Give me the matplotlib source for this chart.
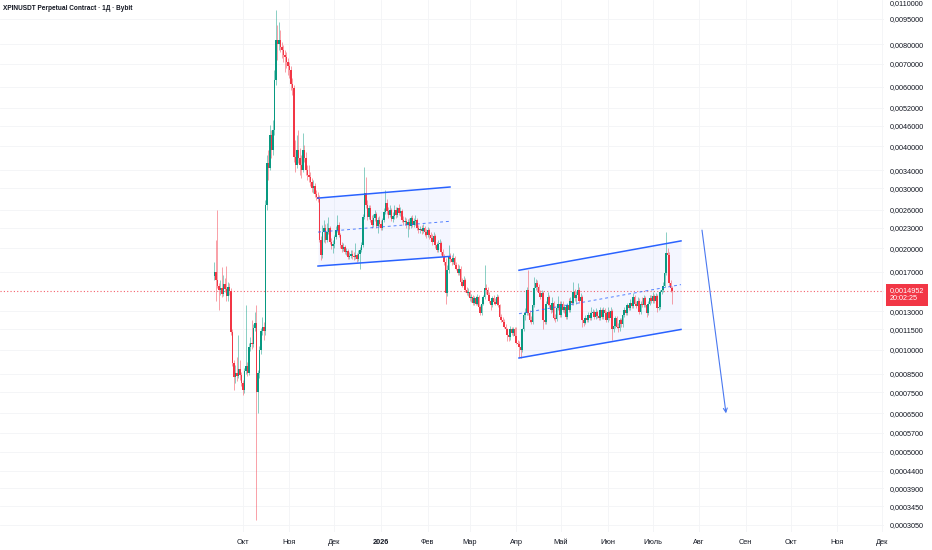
import datetime as dt
import matplotlib
matplotlib.use("Agg")
import matplotlib.pyplot as plt
import matplotlib.dates as mdates
from matplotlib.ticker import NullLocator

plt.rcParams['font.family'] = ['Liberation Sans', 'DejaVu Sans']

# prices below are in units of 0.0001 USDT, one daily candle per entry
PRICE_UNIT = 1e-4
first_day = dt.date(2025, 9, 12)
first_open = 16.5

close = [
    17.0, 16.1, 15.5, 15.0, 15.2, 14.65, 15.7, 15.1, 14.4, 15.3,
    14.95, 11.3, 9.15, 8.33, 8.55, 8.38, 8.79, 8.44, 7.99, 7.62,
    8.67, 8.97, 8.55, 10.2, 10.5, 10.4, 11.65, 12.0, 7.52, 8.55,
    10.0, 11.4, 11.7, 11.35, 26.8, 35.7, 34.5, 43.1, 39.0, 44.6,
    62.7, 82.4, 80.2, 82.4, 78.6, 76.9, 74.4, 73.4, 70.9, 69.0,
    67.2, 61.0, 59.4, 37.2, 35.2, 39.0, 36.9, 35.2, 34.0, 39.0,
    36.9, 34.0, 32.9, 32.5, 31.4, 30.1, 30.5, 28.9, 28.3, 27.9,
    21.1, 19.1, 22.3, 23.0, 21.1, 22.3, 23.0, 20.8, 20.3, 20.6,
    21.6, 22.6, 23.4, 21.9, 20.4, 19.9, 20.1, 19.5, 19.6, 18.8,
    18.9, 19.2, 18.9, 18.8, 19.1, 18.6, 19.2, 19.7, 20.4, 24.7,
    29.1, 26.8, 24.7, 26.2, 24.2, 23.4, 24.6, 25.2, 23.3, 24.2,
    23.6, 23.0, 24.2, 25.6, 27.1, 25.7, 25.1, 25.9, 24.4, 24.9,
    25.9, 25.1, 26.2, 25.4, 25.7, 24.2, 23.9, 24.1, 23.4, 23.9,
    23.3, 24.6, 23.4, 24.1, 24.2, 23.0, 22.6, 22.8, 22.5, 23.0,
    22.3, 21.9, 22.6, 21.9, 21.4, 20.8, 21.7, 20.4, 19.7, 20.6,
    20.7, 19.5, 18.8, 18.2, 14.75, 17.2, 18.8, 18.6, 18.2, 18.7,
    17.8, 17.4, 16.9, 17.4, 15.9, 15.5, 16.1, 15.0, 14.75, 14.85,
    14.2, 14.3, 13.8, 14.2, 13.7, 14.3, 13.4, 12.85, 13.7, 14.3,
    15.2, 15.0, 14.5, 14.0, 13.6, 14.2, 13.9, 13.7, 14.3, 13.6,
    12.5, 12.3, 12.1, 11.7, 11.5, 11.1, 10.9, 11.5, 11.2, 11.5,
    11.0, 10.5, 10.45, 10.2, 10.0, 11.5, 12.7, 12.85, 15.0, 12.85,
    12.3, 12.1, 13.6, 15.2, 15.8, 15.3, 14.75, 14.3, 14.75, 12.3,
    12.1, 13.7, 14.3, 13.6, 13.1, 13.8, 12.4, 12.35, 13.3, 13.7,
    12.7, 13.7, 13.1, 13.4, 12.5, 13.6, 13.1, 14.0, 13.8, 14.85,
    14.2, 14.5, 15.0, 14.0, 14.3, 12.3, 12.0, 12.4, 12.3, 12.7,
    12.4, 12.85, 12.95, 12.5, 12.95, 12.6, 12.4, 13.1, 12.5, 13.1,
    12.85, 12.3, 12.95, 12.4, 13.0, 11.5, 11.8, 12.4, 11.7, 11.6,
    12.3, 11.9, 12.7, 13.1, 12.85, 13.6, 13.3, 13.8, 13.5, 14.3,
    13.7, 13.5, 14.0, 12.95, 13.7, 13.6, 14.2, 13.6, 12.85, 13.7,
    14.2, 14.0, 14.4, 14.0, 14.4, 13.3, 13.4, 14.85, 15.0, 15.5,
    16.9, 19.3, 19.1, 15.8, 15.2, 14.952,
]

high = [
    18.2, 21.1, 25.9, 15.8, 16.1, 17.6, 16.6, 16.3, 17.7, 15.9,
    15.8, 15.2, 11.5, 9.34, 9.03, 9.53, 11.1, 9.34, 8.61, 8.15,
    8.85, 13.6, 9.21, 10.5, 10.9, 12.3, 11.9, 12.95, 13.6, 8.73,
    10.3, 11.65, 12.5, 12.1, 27.7, 37.7, 39.0, 46.2, 44.6, 47.8,
    67.2, 101.0, 91.2, 93.1, 88.1, 81.3, 79.6, 76.9, 75.9, 72.9,
    70.9, 69.0, 63.6, 60.6, 41.7, 43.1, 44.6, 39.5, 37.7, 43.7,
    40.3, 38.5, 35.2, 35.2, 33.6, 32.3, 31.8, 31.2, 29.7, 29.3,
    28.7, 21.7, 23.4, 24.2, 23.6, 23.7, 24.7, 23.3, 21.4, 21.1,
    21.9, 23.3, 25.1, 23.9, 22.2, 20.8, 20.7, 20.4, 20.0, 19.9,
    19.5, 19.7, 19.7, 19.5, 20.7, 19.3, 19.7, 20.1, 20.8, 25.2,
    34.7, 32.5, 27.7, 26.8, 26.8, 25.1, 25.2, 25.9, 25.6, 24.7,
    24.9, 24.2, 24.6, 26.2, 29.7, 27.9, 26.4, 26.8, 26.2, 25.6,
    26.8, 26.4, 26.4, 27.0, 26.4, 26.1, 24.9, 24.7, 24.6, 24.4,
    24.6, 24.9, 25.1, 24.6, 25.1, 24.6, 23.4, 23.3, 23.4, 23.6,
    23.3, 22.8, 23.1, 23.0, 22.3, 22.0, 22.3, 22.0, 20.8, 21.1,
    21.3, 21.0, 19.9, 19.2, 18.7, 17.8, 20.4, 19.3, 19.1, 19.3,
    18.9, 18.2, 18.0, 17.8, 17.7, 16.3, 16.5, 16.3, 15.3, 15.2,
    15.0, 14.65, 14.5, 14.4, 14.4, 14.65, 14.5, 13.6, 14.0, 14.5,
    17.8, 15.7, 15.3, 14.85, 14.2, 14.4, 14.5, 14.2, 14.65, 14.5,
    13.7, 12.75, 12.5, 12.35, 11.95, 11.65, 11.5, 11.8, 11.7, 11.7,
    11.7, 11.7, 10.7, 10.65, 10.4, 11.65, 12.95, 13.3, 15.3, 17.2,
    13.1, 12.6, 13.8, 16.4, 16.2, 16.1, 15.7, 15.0, 15.0, 14.95,
    12.5, 14.0, 14.85, 14.5, 13.8, 14.3, 14.0, 12.75, 13.6, 14.4,
    14.0, 14.0, 14.0, 13.7, 13.6, 13.8, 14.2, 14.3, 14.5, 15.9,
    15.1, 14.95, 15.8, 15.4, 14.75, 14.5, 12.4, 12.7, 12.7, 12.95,
    12.95, 13.4, 13.2, 13.1, 13.3, 13.1, 12.85, 13.4, 13.3, 13.4,
    13.3, 13.0, 13.4, 13.1, 13.4, 13.2, 12.0, 12.6, 12.6, 12.0,
    12.4, 12.4, 12.95, 13.4, 13.4, 13.8, 13.8, 14.1, 14.0, 14.75,
    14.5, 14.0, 14.3, 14.2, 14.0, 14.3, 14.5, 14.4, 13.7, 14.0,
    14.5, 14.5, 14.85, 14.65, 14.75, 14.65, 13.6, 15.0, 15.3, 15.9,
    17.2, 22.3, 20.0, 19.5, 16.1, 15.5,
]

low = [
    16.1, 14.0, 15.2, 13.1, 14.5, 14.3, 14.4, 14.85, 14.0, 14.0,
    14.5, 11.1, 8.97, 7.62, 7.99, 8.10, 8.27, 8.15, 7.83, 7.37,
    7.47, 8.50, 8.38, 8.44, 9.93, 10.1, 10.2, 11.4, 3.15, 6.50,
    8.27, 9.73, 11.1, 10.7, 11.1, 25.9, 31.8, 34.0, 36.9, 37.7,
    43.1, 60.6, 71.9, 76.9, 75.9, 72.9, 70.9, 66.3, 68.1, 64.9,
    63.6, 58.6, 56.7, 35.9, 33.6, 34.5, 35.7, 32.9, 32.3, 33.6,
    35.9, 32.9, 31.8, 31.4, 30.5, 29.3, 29.1, 28.3, 27.7, 27.3,
    20.8, 18.4, 18.7, 20.8, 20.7, 20.8, 22.0, 20.6, 19.9, 19.3,
    20.0, 21.3, 22.3, 21.6, 20.0, 19.5, 19.6, 19.2, 19.1, 18.6,
    18.6, 18.7, 18.6, 18.4, 18.6, 18.2, 18.3, 17.4, 19.5, 20.1,
    24.4, 26.2, 24.2, 24.4, 23.9, 23.0, 23.1, 24.1, 23.0, 22.2,
    23.1, 22.6, 22.6, 23.9, 25.2, 25.2, 24.6, 24.7, 24.1, 23.9,
    24.4, 24.6, 24.7, 25.1, 24.9, 23.9, 23.4, 23.4, 23.0, 21.6,
    22.8, 23.0, 23.1, 23.1, 23.4, 22.6, 22.2, 22.2, 22.0, 22.2,
    21.7, 21.4, 21.6, 21.3, 21.0, 20.4, 20.6, 20.0, 19.5, 19.5,
    20.0, 19.1, 18.4, 17.8, 13.7, 14.4, 16.9, 18.2, 17.8, 17.9,
    17.6, 17.2, 16.6, 16.6, 15.7, 15.3, 15.3, 14.85, 14.5, 14.4,
    14.0, 13.9, 13.6, 13.6, 13.6, 13.6, 13.2, 12.7, 12.7, 13.6,
    14.1, 14.65, 14.3, 13.8, 13.1, 13.4, 13.7, 13.6, 13.6, 13.4,
    12.35, 12.1, 11.9, 11.6, 11.35, 10.6, 10.6, 10.7, 11.05, 11.0,
    10.85, 10.4, 10.25, 9.53, 9.47, 9.86, 11.35, 12.3, 12.7, 12.7,
    12.1, 11.9, 11.95, 13.4, 15.0, 14.95, 14.5, 14.1, 14.1, 11.5,
    11.9, 11.95, 13.6, 13.4, 12.85, 12.95, 12.3, 12.1, 12.2, 13.1,
    12.5, 12.5, 12.95, 12.85, 12.35, 12.35, 12.95, 12.95, 13.6, 13.6,
    14.0, 13.7, 14.3, 13.8, 13.7, 11.7, 11.8, 11.9, 12.1, 12.1,
    12.3, 12.3, 12.6, 12.35, 12.35, 12.4, 12.3, 12.3, 12.35, 12.35,
    12.7, 12.1, 12.1, 12.3, 12.3, 10.7, 11.3, 11.65, 11.6, 11.3,
    11.4, 11.7, 11.7, 12.5, 12.7, 12.7, 13.1, 13.1, 13.3, 13.3,
    13.6, 13.3, 13.3, 12.75, 12.75, 13.4, 13.4, 13.4, 12.5, 12.7,
    13.6, 13.8, 13.8, 13.8, 13.8, 12.95, 13.1, 13.2, 14.65, 14.85,
    15.3, 16.6, 18.7, 15.5, 14.85, 13.7,
]

price_ticks = [0.0095, 0.008, 0.007, 0.006, 0.0052, 0.0046, 0.004, 0.0034,
               0.003, 0.0026, 0.0023, 0.002, 0.0017, 0.0013, 0.00115, 0.001,
               0.00085, 0.00075, 0.00065, 0.00057, 0.0005, 0.00044, 0.00039,
               0.000345, 0.000305]

month_starts = ["2025-10-01", "2025-11-01", "2025-12-01", "2026-01-01", "2026-02-01",
                "2026-03-01", "2026-04-01", "2026-05-01", "2026-06-01", "2026-07-01",
                "2026-08-01", "2026-09-01", "2026-10-01", "2026-11-01", "2026-12-01"]
month_labels = ["Окт", "Ноя", "Дек", "2026", "Фев", "Мар", "Апр", "Май", "Июн",
                "Июль", "Авг", "Сен", "Окт", "Ноя", "Дек"]

# drawings: (start date, start price, end date, end price)
channel1_top = ("2025-11-20", 0.00281, "2026-02-16", 0.00303)
channel1_bottom = ("2025-11-20", 0.00177, "2026-02-16", 0.00189)
channel1_mid = ("2025-11-20", 0.00223, "2026-02-16", 0.00240)
channel2_top = ("2026-04-03", 0.00172, "2026-07-20", 0.00210)
channel2_bottom = ("2026-04-03", 0.000947, "2026-07-20", 0.00115)
channel2_mid = ("2026-04-03", 0.00128, "2026-07-20", 0.00156)
arrow = ("2026-08-03", 0.00226, "2026-08-19", 0.00065)

last_price = 0.0014952
countdown = "20:02:25"
title = "XPINUSDT Perpetual Contract · 1Д · Bybit"

UP = "#089981"
DOWN = "#f23645"
BLUE = "#2962ff"
TEXT = "#131722"


def d(s):
    return mdates.datestr2num(s)


n = len(close)
days = [mdates.date2num(first_day + dt.timedelta(days=i)) for i in range(n)]
opens = [first_open] + close[:-1]

# chart pane is 884 px wide, price scale to the right of it
fig = plt.figure(figsize=(9.32, 5.5), dpi=100)
ax = fig.add_axes([0, 18 / 550, 884 / 932, 532 / 550])
ax.set_yscale("log")

for s in ax.spines.values():
    s.set_visible(False)

# faint grid
for m in month_starts:
    ax.axvline(d(m), color="#f3f4f6", lw=0.6, zorder=0)
for t in price_ticks:
    ax.axhline(t, color="#f3f4f6", lw=0.6, zorder=0)

# candles
for i in range(n):
    o, c = opens[i] * PRICE_UNIT, close[i] * PRICE_UNIT
    col = UP if c >= o else DOWN
    ax.vlines(days[i], low[i] * PRICE_UNIT, high[i] * PRICE_UNIT, color=col,
              lw=0.6, alpha=0.55, zorder=3)
    ax.bar(days[i], abs(c - o), bottom=min(o, c), width=0.9, color=col,
           lw=0, zorder=4)


def channel(top, bottom, mid):
    xs = [d(top[0]), d(top[2])]
    ax.fill_between(xs, [bottom[1], bottom[3]], [top[1], top[3]],
                    color=BLUE, alpha=0.05, lw=0, zorder=1)
    ax.plot(xs, [top[1], top[3]], color=BLUE, lw=1.1, zorder=5)
    ax.plot(xs, [bottom[1], bottom[3]], color=BLUE, lw=1.1, zorder=5)
    ax.plot(xs, [mid[1], mid[3]], color=BLUE, lw=0.7, alpha=0.8,
            dashes=(3, 3), zorder=5)


channel(channel1_top, channel1_bottom, channel1_mid)
channel(channel2_top, channel2_bottom, channel2_mid)

ax.annotate("", xy=(d(arrow[2]), arrow[3]), xytext=(d(arrow[0]), arrow[1]),
            arrowprops=dict(arrowstyle="->", color="#4a78f0", lw=0.8,
                            mutation_scale=7, shrinkA=0, shrinkB=0), zorder=5)

# last price line
ax.axhline(last_price, color=DOWN, lw=0.8, ls=(0, (1, 2)), alpha=0.8, zorder=2)

# price scale
ax.yaxis.tick_right()
ax.yaxis.set_minor_locator(NullLocator())
ax.set_yticks(price_ticks)
ax.set_yticklabels([f"{t:.7f}".replace(".", ",") for t in price_ticks])
ax.tick_params(axis="y", length=0, pad=4.5, labelsize=5.2, labelcolor=TEXT)

# time scale
ax.set_xticks([d(m) for m in month_starts])
ax.set_xticklabels(month_labels)
ax.xaxis.set_minor_locator(NullLocator())
ax.tick_params(axis="x", length=0, pad=5, labelsize=5.3, labelcolor=TEXT)
for lbl in ax.get_xticklabels():
    if lbl.get_text() == "2026":
        lbl.set_fontweight("bold")

# limits last: set_xticks would otherwise widen the view
ax.set_ylim(0.000290, 0.01081)
# 1.5 px per day, Oct 1 2025 sits at x = 243 px
ax.set_xlim(d("2025-10-01") - 243 / 1.5, d("2025-10-01") + (884 - 243) / 1.5)

# price tag sits just under the last price line
fig.canvas.draw()
y_last = ax.transData.transform((0, last_price))[1] / 550
fig.text(890 / 932, y_last - 4 / 550, "0,0014952\n" + countdown, ha="left",
         va="center", fontsize=5.2, color="white", linespacing=1.15, zorder=6,
         bbox=dict(boxstyle="square,pad=0.5", fc=DOWN, ec="none"))
fig.text(890 / 932, 1.0, "0,0110000", fontsize=5.2, color=TEXT,
         ha="left", va="top")

fig.text(3 / 932, 1 - 8 / 550, title, fontsize=4.7, fontweight="bold",
         color=TEXT, ha="left", va="center")

fig.savefig("out.png", dpi=100)
